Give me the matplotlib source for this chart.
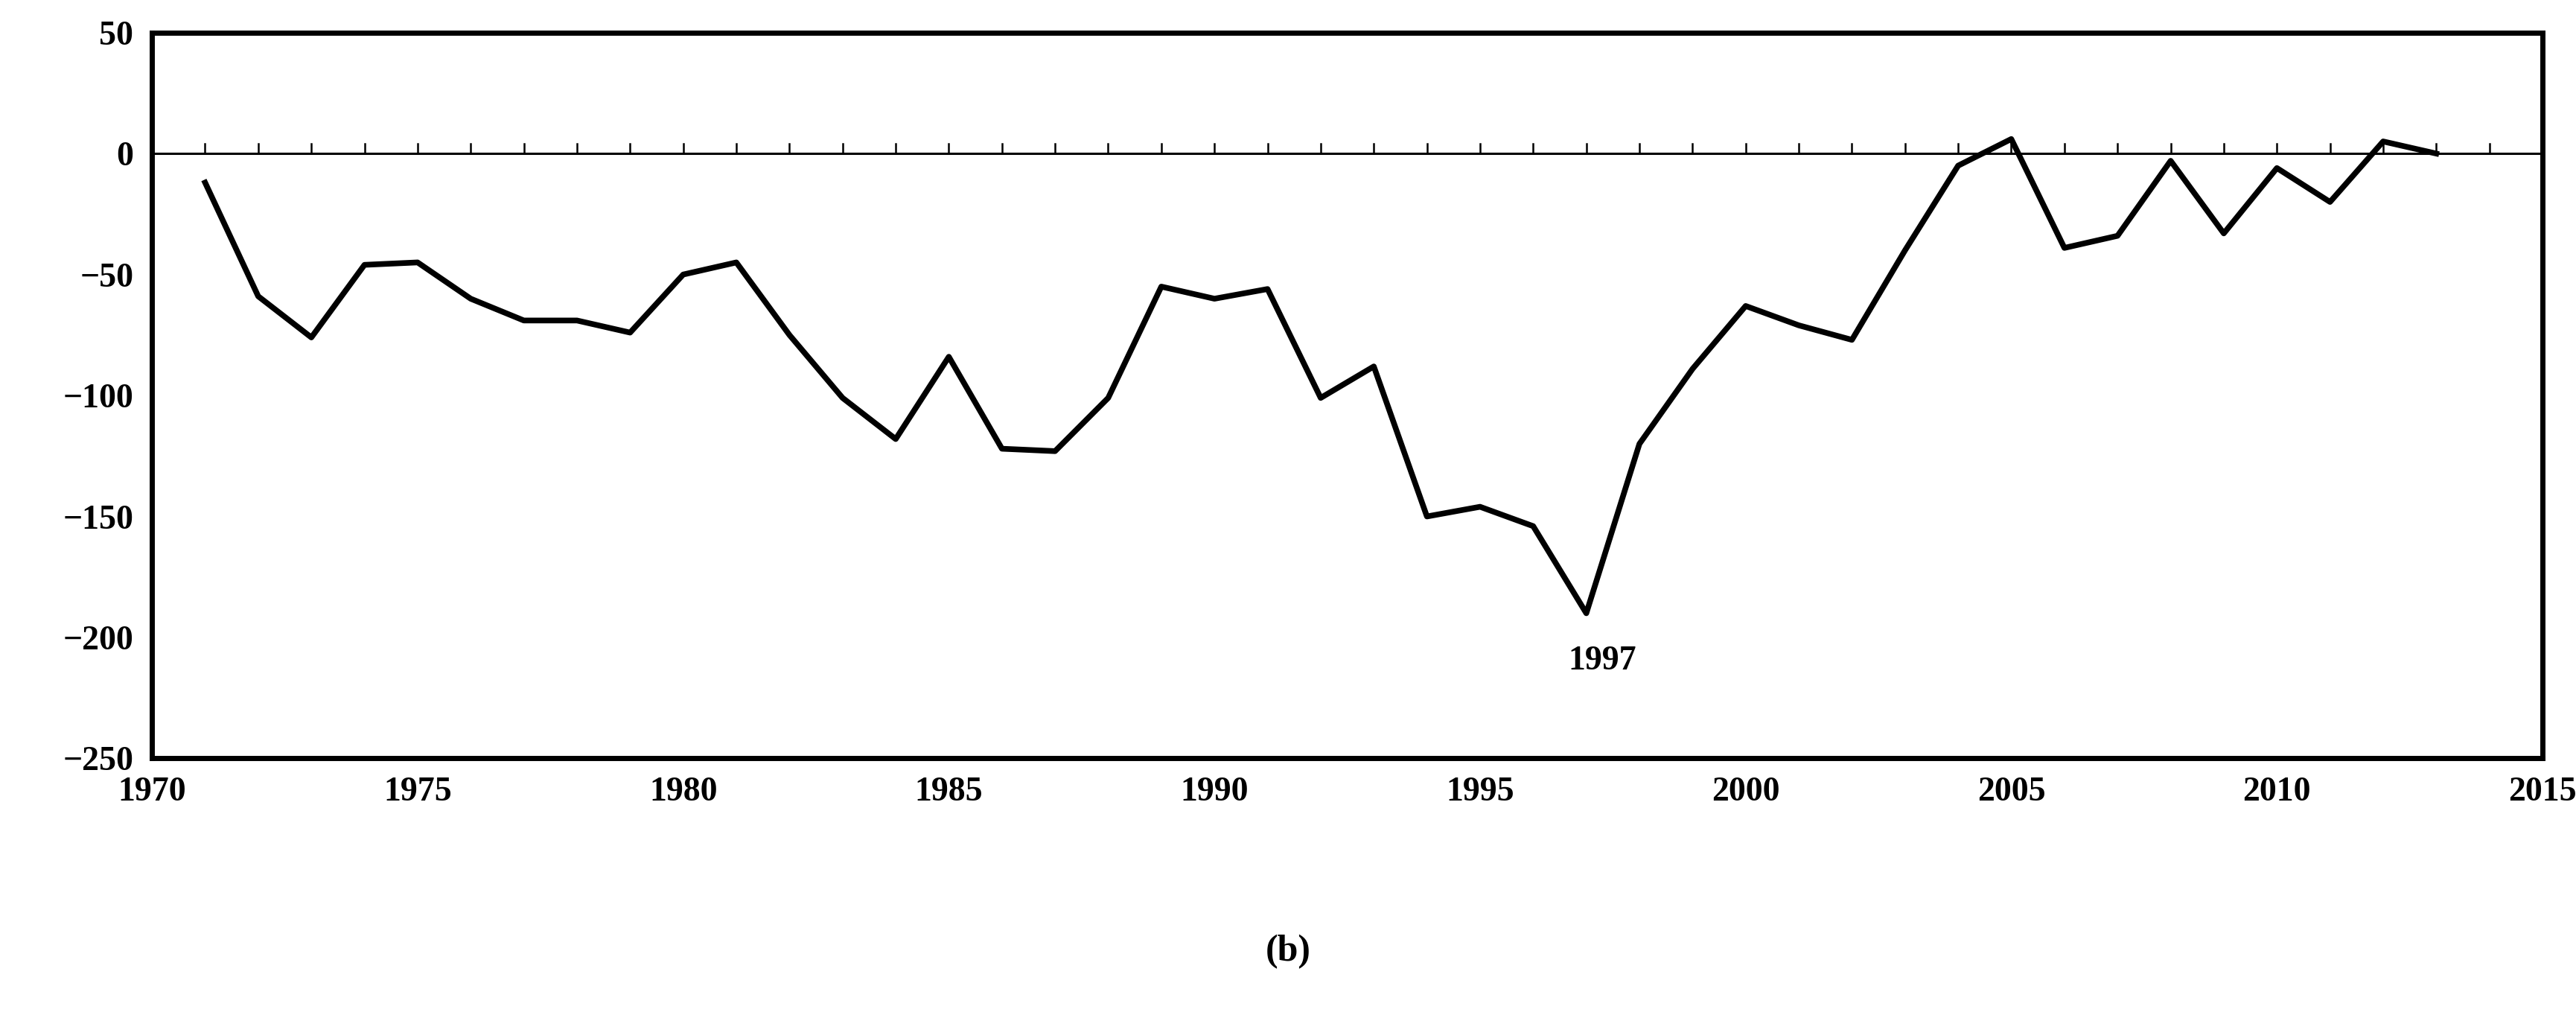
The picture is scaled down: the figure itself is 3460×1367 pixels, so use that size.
import matplotlib
matplotlib.use('Agg')
import matplotlib.pyplot as plt

# Values
years = list(range(1971, 2014))
values = [-12, -59, -76, -46, -45, -60, -69, -69, -74, -50,
          -45, -75, -101, -118, -84, -122, -123, -101, -55, -60,
          -56, -101, -88, -150, -146, -154, -190, -120, -89, -63,
          -71, -77, -40, -5, 6, -39, -34, -3, -33, -6,
          -20, 5, 0]
x_ticks = [1970, 1975, 1980, 1985, 1990, 1995, 2000, 2005, 2010, 2015]
y_ticks = [50, 0, -50, -100, -150, -200, -250]

plt.rcParams['font.family'] = ['Liberation Serif', 'DejaVu Serif']
plt.rcParams['font.weight'] = 'bold'

fig = plt.figure(figsize=(34.6, 13.67), dpi=100)
ax = fig.add_axes([0.059, 0.255, 0.928, 0.713])

ax.plot(years, values, color='black', linewidth=5.5)

# zero line with small yearly ticks pointing up
ax.axhline(0, color='black', linewidth=2.2)
for yr in range(1971, 2015):
    ax.plot([yr, yr], [0, 4], color='black', linewidth=1.8)

ax.set_xlim(1970, 2015)
ax.set_ylim(-250, 50)
ax.set_xticks(x_ticks)
ax.set_yticks(y_ticks)
ax.tick_params(axis='both', length=0, labelsize=33, pad=18)
for s in ax.spines.values():
    s.set_linewidth(5)

ax.annotate('1997', xy=(1997, -190), xytext=(1997.3, -210), ha='center', va='center',
            fontsize=33, fontweight='bold')

fig.text(0.5, 0.065, '(b)', ha='center', va='center', fontsize=36)

fig.savefig('out.png', dpi=100)
